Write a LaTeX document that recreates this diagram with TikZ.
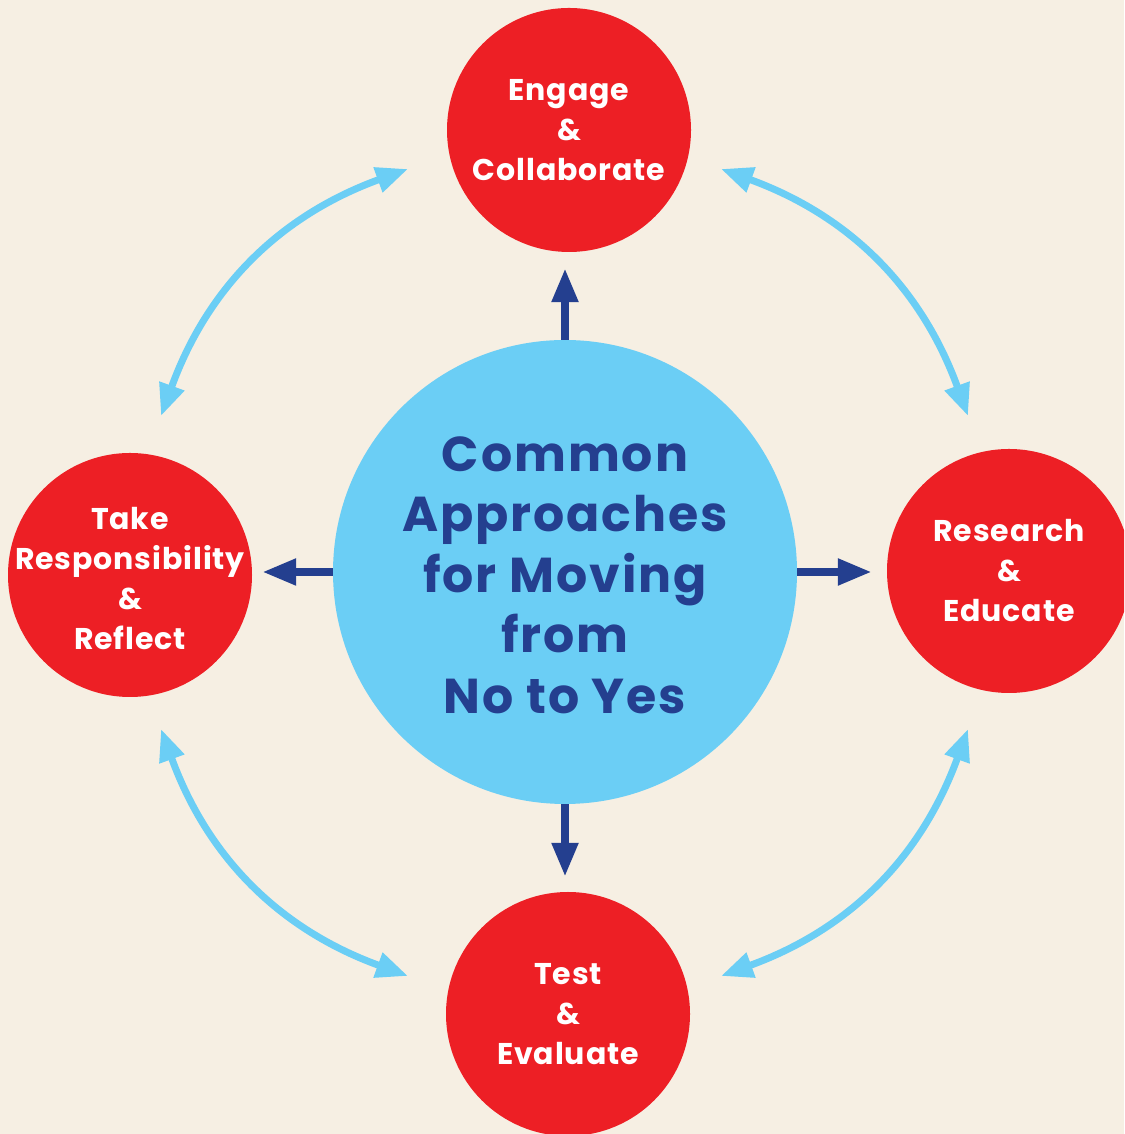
\documentclass[tikz,border=0pt]{standalone}
\usepackage{fontspec}
\setmainfont{Poppins}[UprightFont=* Bold]
\usetikzlibrary{arrows.meta}
\definecolor{paper}{HTML}{F6EFE3}
\definecolor{hubblue}{HTML}{6BCEF5}
\definecolor{inkblue}{HTML}{243F8F}
\definecolor{stepred}{HTML}{ED1F25}
\tikzset{
  hub/.style={circle, fill=hubblue, minimum size=464pt, inner sep=0pt},
  stage/.style={circle, fill=stepred, minimum size=244pt, inner sep=0pt},
  hubtext/.style={text=inkblue, align=center,
    font=\fontsize{49}{60.5}\selectfont\addfontfeature{LetterSpace=4}},
  stagetext/.style={text=white, align=center,
    font=\fontsize{30}{40}\selectfont\addfontfeature{LetterSpace=3}},
  spoke/.style={draw=inkblue, line width=8pt, -{Triangle[length=34pt,width=25pt]}},
  cycle/.style={draw=hubblue, line width=7pt,
    {Triangle[length=32pt,width=25pt]}-{Triangle[length=32pt,width=25pt]}},
}
\begin{document}
\begin{tikzpicture}[x=1pt,y=1pt]
  \useasboundingbox (0,0) rectangle (1124,1134);
  \fill[paper] (0,0) rectangle (1124,1134);
  \begin{scope}
    \clip (0,0) rectangle (1124,1134);

    % hub and the four stages
    \node[hub] (C) at (565,562) {};
    \node[stage] (T) at (569,1004) {};
    \node[stage] (B) at (568,120) {};
    \node[stage] (L) at (130,559) {};
    \node[stage] (R) at (1009,563) {};

    \node[hubtext] (Ctxt) at ([yshift=-3pt]C) {Common\\Approaches\\for Moving\\from\\No to Yes};
    \node[stagetext] (Ttxt) at (T) {Engage\\\&\\Collaborate};
    \node[stagetext] (Btxt) at (B) {Test\\\&\\Evaluate};
    \node[stagetext] (Ltxt) at ([yshift=-4pt]L) {Take\\Responsibility\\\&\\Reflect};
    \node[stagetext] (Rtxt) at (R) {Research\\\&\\Educate};

    % spokes from the hub
    \draw[spoke, shorten >=16pt] (C.north) -- (C.north |- T.south);
    \draw[spoke, shorten >=15pt] (C.south) -- (C.south |- B.north);
    \draw[spoke, shorten >=10pt] (C.west) -- (C.west -| L.east);
    \draw[spoke, shorten >=15pt] (C.east) -- (C.east -| R.west);

    % ends of the cycle arrows
    \coordinate (a1) at (161,718);
    \coordinate (a2) at (408,965);
    \coordinate (b1) at (721,965);
    \coordinate (b2) at (968,718);
    \coordinate (c1) at (968,405);
    \coordinate (c2) at (721,158);
    \coordinate (d1) at (408,158);
    \coordinate (d2) at (161,405);

    % cycle arrows between neighbouring stages
    \draw[cycle] (a1) to[bend left=25] (a2);
    \draw[cycle] (b1) to[bend left=25] (b2);
    \draw[cycle] (c1) to[bend left=25] (c2);
    \draw[cycle] (d1) to[bend left=25] (d2);
  \end{scope}
\end{tikzpicture}
\end{document}
